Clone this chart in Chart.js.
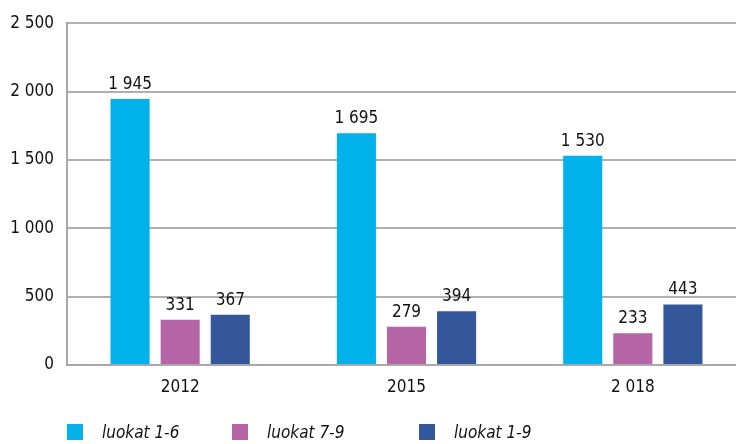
<!DOCTYPE html>
<html>
<head>
<meta charset="utf-8">
<script src="https://cdn.jsdelivr.net/npm/chart.js@4/dist/chart.umd.min.js"></script>
<style>
  html, body { margin: 0; padding: 0; background: #fff; overflow: hidden; }
  #wrap { position: relative; width: 746px; height: 444px; }
  #legend { position: absolute; left: 67px; top: 423px; display: flex;
            font-family: "DejaVu Sans Condensed", sans-serif;
            font-style: italic; font-size: 17px; color: #111; }
  #legend .item { display: flex; align-items: center; height: 17px; }
  #legend .box { width: 16px; height: 16px; margin-right: 19px; }
</style>
</head>
<body>
<div id="wrap">
  <canvas id="grafico" width="746" height="444"></canvas>
  <div id="legend"></div>
</div>
<script>
// Dati
const anni = ["2012", "2015", "2 018"];
const luokat16 = [1945, 1695, 1530];
const luokat79 = [331, 279, 233];
const luokat19 = [367, 394, 443];
const tickY = [0, 500, 1000, 1500, 2000, 2500];

const serie = [
  { label: "luokat 1-6", data: luokat16, colore: "#00b1ea" },
  { label: "luokat 7-9", data: luokat79, colore: "#b565a6" },
  { label: "luokat 1-9", data: luokat19, colore: "#34569b" }
];
const larghezzeLegenda = [165, 187, 150];

const FONT = "DejaVu Sans Condensed";
const fmt = n => String(n).replace(/\B(?=(\d{3})+(?!\d))/g, " ");

// etichette sopra le barre
const etichette = {
  id: "etichette",
  afterDatasetsDraw(chart) {
    const c = chart.ctx;
    c.save();
    c.font = "17px '" + FONT + "'";
    c.fillStyle = "#111";
    c.textAlign = "center";
    c.textBaseline = "alphabetic";
    chart.data.datasets.forEach((ds, i) => {
      chart.getDatasetMeta(i).data.forEach((bar, j) => {
        c.fillText(fmt(ds.data[j]), bar.x, bar.y - 10);
      });
    });
    c.restore();
  }
};

new Chart(document.getElementById("grafico"), {
  type: "bar",
  data: {
    labels: anni,
    datasets: serie.map(s => ({
      label: s.label,
      data: s.data,
      backgroundColor: s.colore,
      borderWidth: 0,
      categoryPercentage: 0.664,
      barPercentage: 0.78
    }))
  },
  options: {
    responsive: false,
    animation: false,
    layout: { padding: { top: 20, right: 0, left: 0, bottom: 0 } },
    plugins: { legend: { display: false }, tooltip: { enabled: false } },
    scales: {
      x: {
        grid: { display: false, drawTicks: false },
        border: { display: true, color: "#a8a8a8", width: 2 },
        ticks: { color: "#111", font: { family: FONT, size: 17 }, padding: 12 },
        afterFit: s => { s.height = 79; }
      },
      y: {
        min: 0, max: 2500,
        afterBuildTicks: s => { s.ticks = tickY.map(v => ({ value: v })); },
        grid: { color: "#b0b0b0", lineWidth: 2, drawTicks: false },
        border: { display: true, color: "#a8a8a8", width: 2 },
        ticks: { color: "#111", font: { family: FONT, size: 17 }, padding: 13, callback: v => fmt(v) },
        afterFit: s => { s.width = 67; }
      }
    }
  },
  plugins: [etichette]
});

// legenda
const leg = document.getElementById("legend");
serie.forEach((s, i) => {
  const it = document.createElement("div");
  it.className = "item";
  it.style.width = larghezzeLegenda[i] + "px";
  const b = document.createElement("span");
  b.className = "box";
  b.style.background = s.colore;
  const t = document.createElement("span");
  t.textContent = s.label;
  it.appendChild(b);
  it.appendChild(t);
  leg.appendChild(it);
});
</script>
</body>
</html>
